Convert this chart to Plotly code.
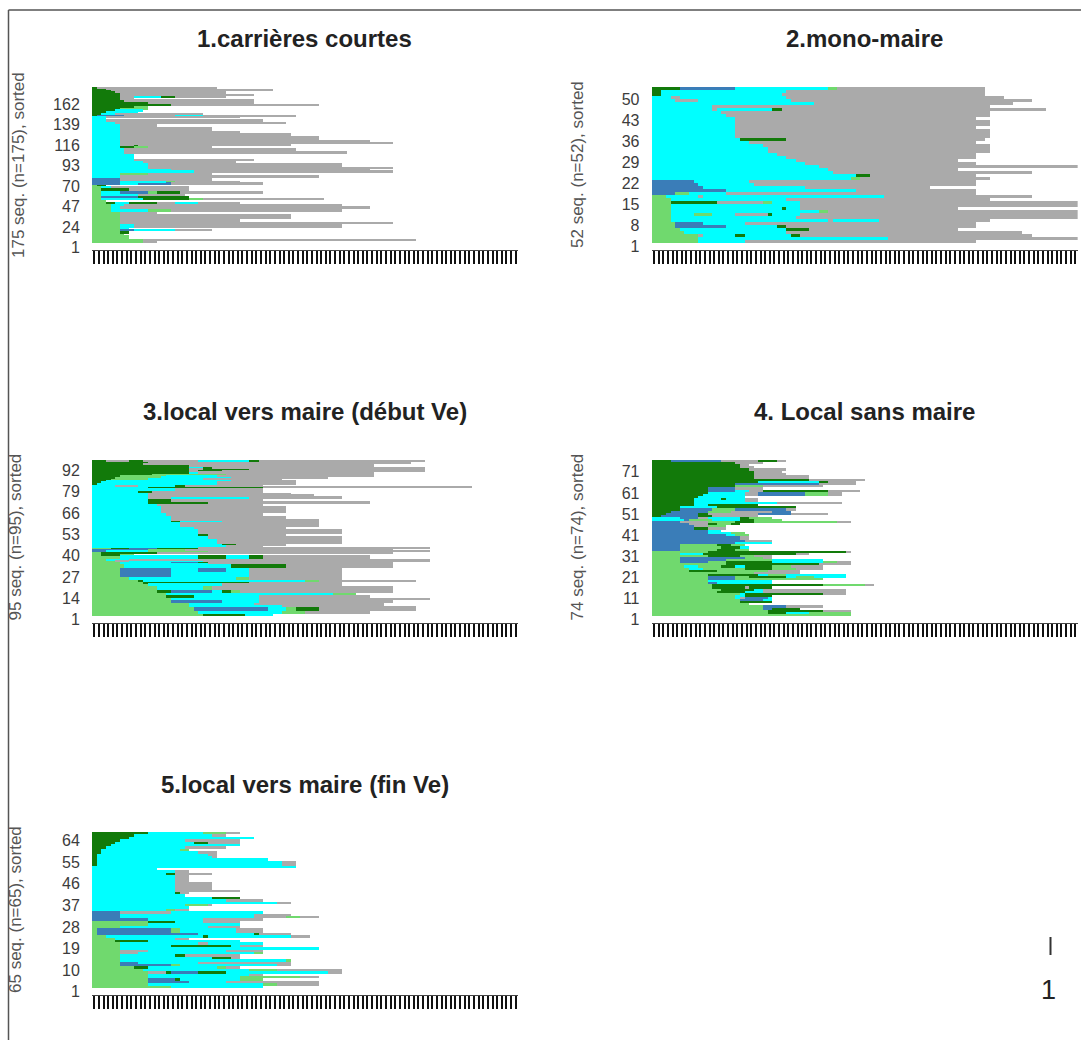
import plotly.graph_objects as go

STATE_COLORS = {"L": "#70D96E", "D": "#127A0A", "B": "#3A7DB8", "C": "#00FFFF", "A": "#AAAAAA"}

panel_titles = ["1.carrières courtes", "2.mono-maire", "3.local vers maire (début Ve)",
                "4. Local sans maire", "5.local vers maire (fin Ve)"]
panel_ylabels = ["175 seq. (n=175), sorted", "52 seq. (n=52), sorted", "95 seq. (n=95), sorted",
                 "74 seq. (n=74), sorted", "65 seq. (n=65), sorted"]
panel_sizes = [175, 52, 95, 74, 65]
panel_ticks = [[1, 24, 47, 70, 93, 116, 139, 162],
               [1, 8, 15, 22, 29, 36, 43, 50],
               [1, 14, 27, 40, 53, 66, 79, 92],
               [1, 11, 21, 31, 41, 51, 61, 71],
               [1, 10, 19, 28, 37, 46, 55, 64]]
n_positions = 92

# Sequences from the top row downwards: (number of rows, state + duration runs)
seq1 = [(2, "D1 A26"), (1, "D3 A24"), (1, "D4 A35"), (3, "D5 A24"), (1, "D6 A23"), (1, "D6 A29"),
        (3, "D6 A3 C6 D3 A11"), (2, "D6 A3"), (3, "D7 A28"), (2, "D12 A23"), (2, "D17 A32"),
        (2, "D9 L3"), (2, "D6 L6"), (2, "D5 C6"), (2, "D3 C7"), (2, "D2 C3 A19"),
        (2, "D1 B6 A11 C6 A20"), (1, "C3 A29"),
        (2, "C3"), (3, "C3 A34"), (3, "C5 A37"), (3, "C6 A8"), (4, "C6 A20"), (3, "C6 A26"),
        (3, "C6 A37"), (4, "C6 A43"), (3, "C6 A54"), (1, "C6 A59"), (2, "C6 A37"),
        (1, "C6 A3 D1 A33"), (2, "C6 D3 L3 A14"), (4, "C7 A37"), (3, "C7 A48"), (6, "C9"),
        (1, "C9 A26"), (3, "C11 A20"), (5, "C12 A42"), (1, "C12 A53"), (2, "C17 A43"),
        (3, "C22 A43"), (3, "C6 L6 A14"), (3, "C6 A43"),
        (3, "B6 A20"), (2, "B6 C10 L2 A14"), (2, "B6 C4 B7 A20"),
        (2, "L1 D2"), (2, "L2 C2 A17"), (4, "L2 D6 A13"), (2, "L2 C4 B6 L2 D5 A18"), (1, "L2"),
        (2, "L2 C8 A10"), (2, "L2 B8 D11"), (2, "L2 C9 D10 L3 A26"), (3, "L3"),
        (2, "L3 D2 C3 D6 A4 C5 A9"), (3, "L4 C3 A47"), (3, "L4 C2 A54"), (3, "L4 C8 L5 A37"),
        (3, "L6 A8"), (5, "L6 A37"), (3, "L6 A26"), (3, "L6 A59"), (4, "L6 C3 A45"), (1, "L6 C2"),
        (3, "L6 B3 C9 A8"), (2, "L6 D2"), (2, "L7"), (4, "L8"), (2, "L11 A59"), (3, "L11 A3")]

seq2 = ["D6 B12 C20 L2 A32", "D2 C27 A43", "D2 C26 A44", "C4 A2 C23 A47", "C5 A5 C20 A52",
        "C35 A43", "C13 A60", "C13 A1 C12 D2 A57", "C15 A58", "C16 A57", "C18 A52", "C18 A55",
        "C18 A55", "C18 A52", "C18 A55", "C18 A55", "C18 A55", "C19 D10 A43", "C21 A49", "C24 A49", "C25 A48",
        "C25 A48", "C27 A43", "C29 A41", "C31 A35", "C33 A37", "C36 A56", "C38 A28", "C39 A43",
        "C44 D3 A23", "C43 L2 A28", "B9 C12 A49", "B10 C12 A48", "B11 C22 A27", "B16 C28 A26",
        "B5 L3 C8 A54", "L3 C7 A1 C39 A32", "L4 C25 A44", "L4 D10 A10 L2 C6 A60", "L4 C28 A60",
        "L4 C24 D1 C3 A34", "L4 C32 L2 A54", "L4 C5 L4 C5 A7 D1 C6 A60", "L4 C27 A61",
        "L4 C34 A1 C10 A24", "L5 B6 C9 A50", "L5 B11 C11 D2 A41", "L6 C23 D5 A32",
        "L7 C22 A51", "L10 A1 C7 D2 C10 D2 A50", "L10 C41 A41", "L10 C10 A50"]

seq3 = [(1, "D3 A5 D3 A12 C11 D2 A36"), (1, "D12 A57"), (1, "D11 A50"), (1, "D21 A40"),
        (1, "D21 C3 D2 A46"), (1, "D21 A3 D10 A38"), (1, "D21 A2 D5 A44"), (1, "D21 C2 A38"),
        (1, "D13 L16 A32"), (1, "D6 L10 C11 A34"), (1, "D5 L10 C15 A21"), (1, "D4 L8 C12 A17"),
        (1, "D3 C27 A14"), (1, "D2 C25 A17"), (1, "D1 C26 A17"), (1, "C5 A5 C8 D2 A17"),
        (1, "C12 D25 A45"), (2, "C18 A19"), (1, "C10 D3 A24"), (1, "C12 A31"), (1, "C12 A36"),
        (2, "C12 A5 C17 A20"), (1, "C12 D5 A20"), (2, "C12 D13 A35"), (1, "C14 A23"),
        (4, "C15 A27"), (2, "C16 A21"), (2, "C17 A25"), (1, "C17 A32"), (1, "C17 D2 C9 A21"),
        (3, "C19 A30"), (1, "C22 A20"), (3, "C23 A31"), (1, "C23 D2 A17"), (2, "C25 A29"),
        (3, "C27 A27"), (1, "C28 D3 A11"), (1, "C29 A8"),
        (1, "L4 D4 B6 D9 A50"), (1, "B12 L8 A45"), (1, "B3 C9 L13 A48"), (1, "L2 D12 A51"),
        (1, "L2 D4 L3"), (2, "L6 C17 D6 C5 D3 A23"), (1, "L3 C5 A65"), (1, "L5 A3 C16 A49"),
        (1, "L6 C11 B6 D2 A40"), (3, "L7 C23 D12 A23"), (2, "L6 B11 C6 B6 C5 A20"),
        (3, "L6 B11 C17 A20"), (2, "L8 C23 L3 A20"), (1, "L10 D1 C35 L3 A21"), (1, "L11 D23 A20"),
        (2, "L12 C16 A26"), (2, "L14 C10 L2 A39"), (2, "L14 D3 B9 C2 D2 L2 A33"), (1, "L16 C36 L5"),
        (2, "L16 D6 C14 A24"), (1, "L17 C19 A37"), (2, "L17 B11 C8 A29"), (1, "L21 C14 A28"),
        (1, "L21 C20 A22"), (3, "L22 B16 C4 L2 D5 A21"), (2, "L23 C18 L5 A14"), (1, "L24 D9 C6")]

seq4 = ["D4 B11 A8 D4 A2", "D18 A6", "D19 A2", "D19 A3", "D21 A8", "D22 A6", "D22 A7", "D22 A12",
        "D22 A12", "D34 A12", "D23 C13 D2 A6", "D18 B18 A8", "D18 L6 A13", "D12 B6 A6",
        "D12 B6 C3 A3 D14 A7", "D12 C8 A3 B10 L5 A3", "D11 C9 A3 B10 L5 A3",
        "D10 C10", "D9 C6 D1 C4 A3", "D9 C11 A3", "D9 C18 A14", "D9 C3 D11",
        "D6 C8 D17", "D6 B7 L5 B11 A2", "D4 B8 L5 A9 B4", "D3 B7 D2 A11 B7 A8", "D2 B8 D3 A10",
        "C6 B4 A2 C7 D2 L5", "C7 B1 L5 C6 D3 L6", "B6 A6 L6 D4 L18 A3", "B8 A4 D2 L3 D2",
        "B9 A3 L4", "B9 D3 A4", "B12 C3", "B12 C5 L3", "B16 C2 L3", "B19 A2", "B19 A2", "B20 A6", "B18 C8",
        "B6 L8 D3 L3", "B6 L9 D4 C2", "B6 L8 D4 L3", "L12 D30 A1", "L6 C5 D20 A3", "L12 D7 L3 A4",
        "L6 B14 L4 A2", "L6 B10 L10 C11", "L6 B6 L4 D10 C11 L3 A3", "L16 D20 A7",
        "L7 C3 L5 D3 C2 D6 L4 A7", "L8 C3 L9 D6 L5 A6", "L8 D6 L11 A7", "L22 A10",
        "L12 D11 C2 L4 C13", "L12 B6 L3 D8 C2 L4 C7", "L12 B6 L19", "L12 C14", "L12 B2 C12",
        "L13 D24 L9 A2", "L13 D7 A1 D5", "L15 D7 C2 A18", "L14 D6 C4 A18", "L19 C1 D17 A5",
        "L18 C2 D6", "L18 C1 A1 B5 C1", "L19 B5 C2", "L19 D7", "L21", "L24 B5 A8", "L24 B2 D6",
        "L25 D12 A6", "L25 D4 C5 L9", "L43"]

seq5 = ["D12 C12 L5 A3", "D9 C17 A3", "D8 C27", "D6 C14 A12", "D5 C17 D3 A7", "D4 C28", "D3 C17 A9",
        "D2 C17 L2", "D2 C21 A4", "D1 C24 A2", "D1 C25 A1", "D1 C37", "D1 C40 A3", "D1 C40 A3", "C44", "C14",
        "C18 A3", "C16 D2 A8", "C18 A3", "C18 A3", "C18 A3", "C18 A8", "C18 A8", "C18 A8", "C18 A14",
        "C18 D1 A2", "C20", "C26 D6", "C29 A8", "C40 A3", "C20 L5 A1", "C21", "C16 L2 A3",
        "B6 A11 C20", "B6 C29 A8", "B6 C29 A7 L3 A4", "B12 C12 A13", "L12 D6 C6 A8", "L12 C20", "L6 C19 A7",
        "L1 B16 L2 C12 A6", "L1 B16 L2 C12 A6", "L1 B22 C12 D1 A7", "L3 C21 D1 C18 A4", "L5 C13 A3",
        "L5 D7 C20", "L6 C17 A2 C12", "L6 C11 D13 C2 A5", "L6 C43", "L6 A6 C17 A8", "L6 A4 C25 L2",
        "L6 C12 D2 A12", "L6 C20 D4 A2", "L6 C36 L1", "L6 B4 C13 A20", "L6 B11 L2 C21 A3",
        "L9 D3 C15 L2 A3", "L11 C23 L6 A14", "L12 A4 D1 B6 D6 C22 A3", "L12 C22 A3", "L12 C20 L13 A4",
        "L12 B6 D1 C13 L5", "L12 B9 C8 A20", "L12 C25 L3 A9", "L17 C20"]

panel_sequences = [seq1, seq2, seq3, seq4, seq5]

# Page layout in pixels
W, H = 1081, 1040
UNIT = 4.63
panel_left = [92.0, 651.7, 92.0, 651.7, 92.0]
panel_top = [87, 87, 459.5, 459.5, 832]
BAR_H = 156
AXIS_GAP = 7
ylabel_x = [18, 577, 15, 577, 15]

fig = go.Figure()
layout = {}
annotations = []

for i, seq in enumerate(panel_sequences):
    n = panel_sizes[i]
    suffix = "" if i == 0 else str(i + 1)
    ax_x, ax_y = f"xaxis{suffix}", f"yaxis{suffix}"
    spans = {s: ([], [], [], []) for s in STATE_COLORS}
    top = n + 0.5
    for item in seq:
        count, runs = (1, item) if isinstance(item, str) else item
        pos = 0
        for run in runs.split():
            state, length = run[0], float(run[1:])
            st = spans[state]
            st[0].append(length)
            st[1].append(pos)
            st[2].append(top - count / 2)
            st[3].append(count)
            pos += length
        top -= count
    for state, color in STATE_COLORS.items():
        lengths, bases, mids, widths = spans[state]
        if lengths:
            fig.add_trace(go.Bar(x=lengths, base=bases, y=mids, width=widths, orientation="h",
                                 marker=dict(color=color, line=dict(width=0)),
                                 showlegend=False, xaxis=f"x{suffix}", yaxis=f"y{suffix}",
                                 hoverinfo="skip"))
    px_row = BAR_H / n
    left = panel_left[i]
    right = left + n_positions * UNIT
    bottom = panel_top[i] + BAR_H + AXIS_GAP
    layout[ax_x] = dict(domain=[left / W, right / W], range=[0, n_positions],
                        tickmode="linear", tick0=0.5, dtick=1, ticks="outside", ticklen=13,
                        tickwidth=2, tickcolor="#111111", showticklabels=False, showgrid=False,
                        zeroline=False, showline=True, linecolor="#444444", linewidth=1,
                        automargin=False, anchor=f"y{suffix}")
    layout[ax_y] = dict(domain=[1 - bottom / H, 1 - panel_top[i] / H],
                        range=[0.5 - AXIS_GAP / px_row, n + 0.5], tickmode="array",
                        tickvals=panel_ticks[i], ticktext=[str(t) for t in panel_ticks[i]],
                        ticks="outside", ticklen=8, tickcolor="rgba(0,0,0,0)", showgrid=False,
                        zeroline=False, showline=False, ticklabelshift=5, automargin=False,
                        tickfont=dict(family="Liberation Sans", size=16, color="#3c3c3c"),
                        anchor=f"x{suffix}")
    annotations.append(dict(text=f"<b>{panel_titles[i]}</b>", x=(left + right) / 2 / W,
                            y=1 - (panel_top[i] - 48) / H, xref="paper", yref="paper",
                            showarrow=False, xanchor="center", yanchor="middle",
                            font=dict(family="Liberation Sans", size=24, color="#222222")))
    annotations.append(dict(text=panel_ylabels[i], x=ylabel_x[i] / W,
                            y=1 - (panel_top[i] + 78) / H, xref="paper", yref="paper",
                            textangle=-90, showarrow=False, xanchor="center", yanchor="middle",
                            font=dict(family="Liberation Sans", size=17, color="#555555")))

annotations.append(dict(text="1", x=1048 / W, y=1 - 990 / H, xref="paper", yref="paper",
                        showarrow=False, xanchor="center", yanchor="middle",
                        font=dict(family="Liberation Sans", size=27, color="#222222")))

shapes = [
    dict(type="line", xref="paper", yref="paper", x0=8.5 / W, x1=8.5 / W, y0=0, y1=1 - 10 / H,
         line=dict(color="#555555", width=1.5)),
    dict(type="line", xref="paper", yref="paper", x0=8.5 / W, x1=1, y0=1 - 10 / H, y1=1 - 10 / H,
         line=dict(color="#555555", width=1.5)),
    dict(type="line", xref="paper", yref="paper", x0=1050.5 / W, x1=1050.5 / W, y0=1 - 955 / H,
         y1=1 - 937 / H, line=dict(color="#333333", width=2)),
]

fig.update_layout(width=W, height=H, margin=dict(l=0, r=0, t=0, b=0), autosize=False,
                  paper_bgcolor="white", plot_bgcolor="white", bargap=0, barmode="overlay",
                  annotations=annotations, shapes=shapes, **layout)

fig.write_html("out.html", config={"displayModeBar": False},
               post_script="document.body.style.margin='0';document.documentElement.style.overflow='hidden';")
